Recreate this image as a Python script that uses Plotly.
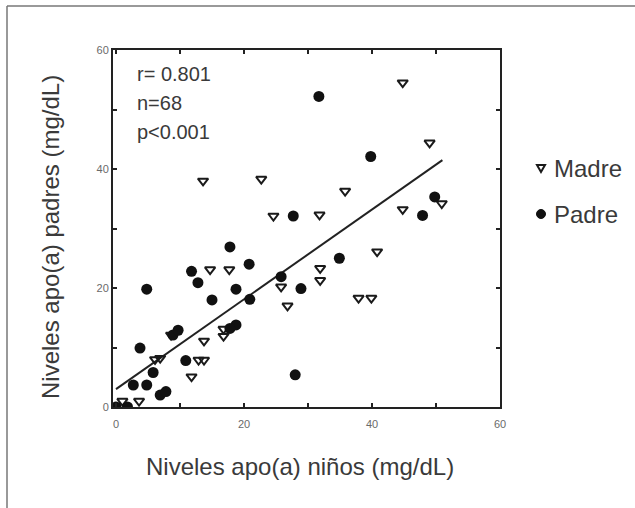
import plotly.graph_objects as go

# Madre (mothers) - open down triangles
madre_x = [44.8, 49.0, 35.8, 50.9, 44.8, 31.8, 13.6, 22.7, 24.6, 14.7, 17.7, 25.8, 26.8,
           16.8, 16.8, 13.75, 8.6, 6.1, 6.9, 12.9, 13.75, 11.8, 3.6, 1.0, 40.8, 31.9,
           31.9, 37.9, 39.9]
madre_y = [54.5, 44.4, 36.3, 34.2, 33.2, 32.3, 38.0, 38.3, 32.1, 23.1, 23.1, 20.2, 17.0,
           13.1, 11.9, 11.1, 12.1, 8.0, 8.2, 7.9, 7.9, 5.1, 1.0, 1.0, 26.1, 23.3,
           21.3, 18.3, 18.3]

# Padre (fathers) - filled circles
padre_x = [31.7, 39.8, 49.8, 47.9, 27.7, 17.8, 20.8, 11.8, 12.8, 4.8, 18.75, 28.9, 25.8,
           15.0, 20.9, 18.75, 17.8, 8.9, 9.7, 3.75, 10.9, 5.8, 28.0, 2.7, 4.8, 6.9,
           7.8, 0.0, 1.8, 34.9]
padre_y = [52.2, 42.1, 35.3, 32.2, 32.1, 26.9, 24.0, 22.8, 20.9, 19.8, 19.8, 19.9, 21.9,
           18.0, 18.1, 13.8, 13.2, 12.1, 12.9, 9.9, 7.8, 5.8, 5.4, 3.7, 3.7, 2.0,
           2.6, 0.0, 0.0, 25.0]

# Regression line endpoints
line_x = [0, 51]
line_y = [3.0, 41.5]

stats_text = ["r= 0.801", "n=68", "p<0.001"]
legend_names = ["Madre", "Padre"]
x_title = "Niveles apo(a) niños (mg/dL)"
y_title = "Niveles apo(a) padres (mg/dL)"
x_ticks = [0, 20, 40, 60]
y_ticks = [0, 20, 40, 60]

FONT = "Liberation Sans, Arial, Helvetica, sans-serif"
TXT = "#3a3a3a"
INK = "#1a1a1a"

fig = go.Figure()
fig.add_trace(go.Scatter(
    x=line_x, y=line_y, mode="lines",
    line=dict(color="#222222", width=2), showlegend=False, hoverinfo="skip"))
fig.add_trace(go.Scatter(
    x=madre_x, y=madre_y, mode="markers", name=legend_names[0], showlegend=False,
    marker=dict(symbol="triangle-down-open", size=9, color=INK,
                line=dict(width=2, color=INK))))
fig.add_trace(go.Scatter(
    x=padre_x, y=padre_y, mode="markers", name=legend_names[1], showlegend=False,
    marker=dict(symbol="circle", size=11, color="#111111")))

# plot area: 387 x 357 px
PW, PH = 387.0, 357.0

def px_x(p):   # screen px -> paper x
    return (p - 113) / PW

def px_y(p):
    return (407 - p) / PH

for i, t in enumerate(stats_text):
    fig.add_annotation(text=t, xref="paper", yref="paper",
                       x=px_x(135), y=px_y([74, 103, 132][i]),
                       xanchor="left", yanchor="middle", showarrow=False,
                       font=dict(size=20, color=TXT, family=FONT))

# axis titles
fig.add_annotation(text=x_title, xref="paper", yref="paper",
                   x=px_x(300), y=px_y(466), xanchor="center", yanchor="middle",
                   showarrow=False, font=dict(size=24, color=TXT, family=FONT))
fig.add_annotation(text=y_title, xref="paper", yref="paper", textangle=-90,
                   x=px_x(50), y=px_y(237), xanchor="center", yanchor="middle",
                   showarrow=False, font=dict(size=24, color=TXT, family=FONT))

# manual legend
leg_y = [168, 214]
for i, name in enumerate(legend_names):
    fig.add_annotation(text=name, xref="paper", yref="paper",
                       x=px_x(552), y=px_y(leg_y[i]),
                       xanchor="left", yanchor="middle", showarrow=False,
                       font=dict(size=24, color=TXT, family=FONT))
fig.add_shape(type="path", xref="paper", yref="paper",
              xsizemode="pixel", ysizemode="pixel",
              xanchor=px_x(541), yanchor=px_y(leg_y[0]),
              path="M -4 3 L 4 3 L 0 -4 Z",
              line=dict(color=INK, width=2), fillcolor="white")
fig.add_shape(type="circle", xref="paper", yref="paper",
              xsizemode="pixel", ysizemode="pixel",
              xanchor=px_x(541), yanchor=px_y(leg_y[1]),
              x0=-4.5, x1=4.5, y0=-4.5, y1=4.5,
              line=dict(color="#111111", width=1), fillcolor="#111111")

axis_common = dict(
    showline=True, linecolor="#222222", linewidth=2, mirror="ticks",
    showgrid=False, zeroline=False, ticks="inside", ticklen=4,
    tickwidth=1.5, tickcolor="#222222",
    tickfont=dict(size=11, color="#6a6a6a", family=FONT),
    minor=dict(dtick=10, ticks="inside", ticklen=4, tickwidth=1.5, tickcolor="#222222"),
)

fig.update_xaxes(range=[-0.47, 60], tickvals=x_ticks, ticklabelstandoff=6, **axis_common)
fig.update_yaxes(range=[0, 60], tickvals=y_ticks, **axis_common)

# outer frame (left and top edges)
fig.add_shape(type="line", xref="paper", yref="paper",
              x0=px_x(7), x1=px_x(7), y0=px_y(520), y1=px_y(6),
              line=dict(color="#777777", width=1.5))
fig.add_shape(type="line", xref="paper", yref="paper",
              x0=px_x(7), x1=px_x(640), y0=px_y(6), y1=px_y(6),
              line=dict(color="#777777", width=1.5))

fig.update_layout(
    width=635, height=508,
    margin=dict(l=113, r=135, t=50, b=101, autoexpand=False),
    paper_bgcolor="white", plot_bgcolor="white",
    font=dict(family=FONT, color=TXT),
    showlegend=False,
)

fig.write_html("out.html", config={"displayModeBar": False},
               post_script="document.body.style.margin='0';document.body.style.overflow='hidden';")
